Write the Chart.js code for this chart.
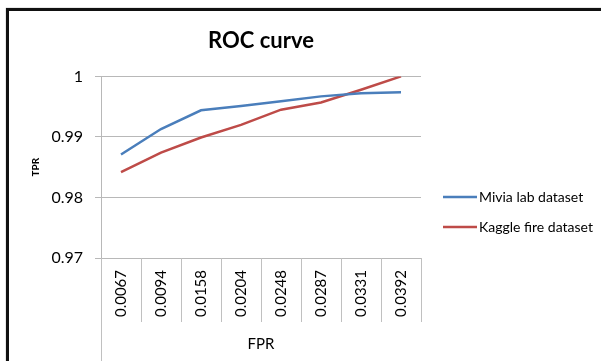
<!DOCTYPE html>
<html>
<head>
<meta charset="utf-8">
<script src="https://cdn.jsdelivr.net/npm/chart.js@4"></script>
<style>
  html, body { margin: 0; padding: 0; background: #fff; }
  #wrap { position: relative; width: 601px; height: 361px; overflow: hidden; }
  #frame {
    position: absolute; left: 6px; top: 8px; width: 700px; height: 500px;
    border: 3px solid #111; box-shadow: 0 0 1px #777; pointer-events: none;
  }
</style>
</head>
<body>
<div id="wrap">
  <canvas id="rocChart" width="601" height="361"></canvas>
  <div id="frame"></div>
</div>
<script>
"use strict";

const FPR_LABELS = ["0.0067", "0.0094", "0.0158", "0.0204", "0.0248", "0.0287", "0.0331", "0.0392"];
const MIVIA_TPR = [0.9871, 0.9913, 0.9944, 0.9951, 0.9959, 0.9967, 0.9972, 0.9974];
const KAGGLE_TPR = [0.9842, 0.9874, 0.9899, 0.9920, 0.9945, 0.9957, 0.9978, 1.0];
const TPR_TICKS = [0.97, 0.98, 0.99, 1];

const FONT = "Lato, 'Liberation Sans', sans-serif";
const DIVIDER_LENGTH = 64;

// category dividers below the x axis (Excel style), left one runs to the bottom
const categoryDividers = {
  id: "categoryDividers",
  afterDraw(chart) {
    const { ctx, chartArea } = chart;
    const xScale = chart.scales.x;
    const half = (xScale.getPixelForValue(1) - xScale.getPixelForValue(0)) / 2;

    ctx.save();
    ctx.strokeStyle = "#c0c0c0";
    ctx.lineWidth = 1;
    ctx.beginPath();
    FPR_LABELS.forEach((label, i) => {
      const x = Math.round(xScale.getPixelForValue(i) + half) + 0.5;
      ctx.moveTo(x, chartArea.bottom);
      ctx.lineTo(x, chartArea.bottom + DIVIDER_LENGTH);
    });
    const left = Math.round(chartArea.left) + 0.5;
    ctx.moveTo(left, chartArea.bottom);
    ctx.lineTo(left, chart.height);
    ctx.stroke();
    ctx.restore();
  }
};

// legend drawn to the right of the plot (built-in legend gets squeezed)
const sideLegend = {
  id: "sideLegend",
  afterDraw(chart) {
    const { ctx, chartArea } = chart;
    const x0 = chartArea.right + 22;
    const yMid = (chartArea.top + chart.height) / 2;

    ctx.save();
    ctx.font = `14px ${FONT}`;
    ctx.textBaseline = "middle";
    ctx.textAlign = "left";
    chart.data.datasets.forEach((ds, i) => {
      const y = Math.round(yMid - 22 + i * 30);
      ctx.strokeStyle = ds.borderColor;
      ctx.lineWidth = 2.5;
      ctx.beginPath();
      ctx.moveTo(x0, y);
      ctx.lineTo(x0 + 34, y);
      ctx.stroke();
      ctx.fillStyle = "#000";
      ctx.fillText(ds.label, x0 + 36, y);
    });
    ctx.restore();
  }
};

function drawChart() {
  const ctx = document.getElementById("rocChart").getContext("2d");

  new Chart(ctx, {
    type: "line",
    data: {
      labels: FPR_LABELS,
      datasets: [
        {
          label: "Mivia lab dataset",
          data: MIVIA_TPR,
          borderColor: "#4a7ebb",
          backgroundColor: "#4a7ebb",
          borderWidth: 2.5,
          pointRadius: 0,
          tension: 0
        },
        {
          label: "Kaggle fire dataset",
          data: KAGGLE_TPR,
          borderColor: "#be4b48",
          backgroundColor: "#be4b48",
          borderWidth: 2.5,
          pointRadius: 0,
          tension: 0
        }
      ]
    },
    plugins: [categoryDividers, sideLegend],
    options: {
      responsive: false,
      animation: false,
      layout: {
        padding: { left: 15, right: 180, top: 0, bottom: 0 }
      },
      plugins: {
        title: {
          display: true,
          text: "ROC curve",
          fullSize: false,
          color: "#000",
          font: { family: FONT, size: 22, weight: "bold" },
          padding: { top: 28, bottom: 22 }
        },
        legend: { display: false },
        tooltip: { enabled: false }
      },
      scales: {
        x: {
          offset: true,
          afterFit: axis => { axis.height = 103; },
          grid: {
            display: true,
            drawOnChartArea: false,
            drawTicks: false
          },
          border: { color: "#b8b8b8" },
          ticks: {
            color: "#000",
            font: { family: FONT, size: 15 },
            minRotation: 90,
            maxRotation: 90,
            padding: 12
          },
          title: {
            display: true,
            text: "FPR",
            color: "#000",
            font: { family: FONT, size: 15 },
            padding: { top: 0, bottom: 8 }
          }
        },
        y: {
          min: 0.97,
          max: 1,
          afterFit: axis => { axis.width = 86; },
          afterBuildTicks: axis => {
            axis.ticks = TPR_TICKS.map(value => ({ value }));
          },
          grid: {
            color: "#b8b8b8",
            tickLength: 6
          },
          border: { color: "#b8b8b8" },
          ticks: {
            color: "#000",
            font: { family: FONT, size: 16 },
            padding: 12,
            callback: value => String(Number(value.toFixed(2)))
          },
          title: {
            display: true,
            text: "TPR",
            color: "#000",
            font: { family: FONT, size: 10, weight: "bold" },
            padding: { top: 15, bottom: 0 }
          }
        }
      }
    }
  });
}

Promise.all([
  document.fonts.load("bold 22px Lato"),
  document.fonts.load("16px Lato"),
  document.fonts.load("bold 10px Lato")
]).catch(() => null).then(drawChart);
</script>
</body>
</html>
